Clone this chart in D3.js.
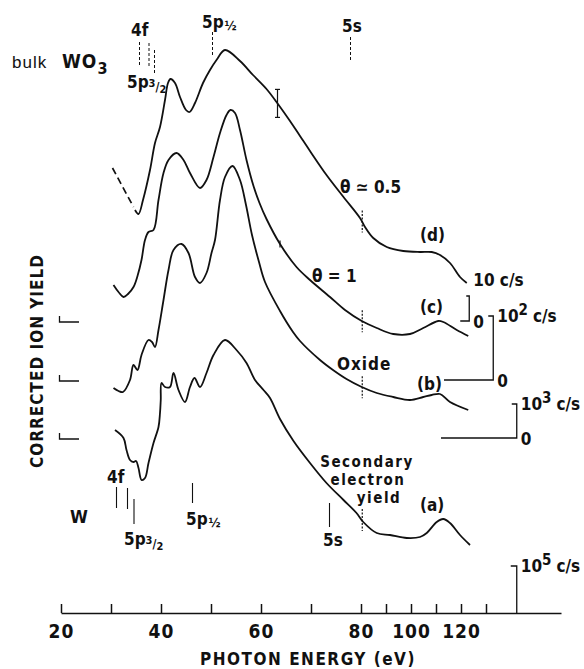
<!DOCTYPE html>
<html>
<head>
<meta charset="utf-8">
<script src="https://cdn.jsdelivr.net/npm/d3@7"></script>
<style>
  body { margin: 0; background: #fff; }
  svg text {
    font-family: "Liberation Sans Narrow", "DejaVu Sans Condensed", sans-serif;
    font-weight: bold;
    fill: #111;
  }
</style>
</head>
<body>
<div id="chart"></div>
<script>
// photon energy axis (eV); the axis is compressed above 80 eV
const energyTicks = [20, 30, 40, 50, 60, 70, 80, 90, 100, 110, 120, 130];
const energyLabels = [20, 40, 60, 80, 100, 120];

// curves: [photon energy (eV), yield above the curve's own zero (arb. units)]
const curveA = [[30.8,183],[32.5,175],[33.1,163],[33.8,153],[34.5,151],[35.0,152],[35.5,145],
  [36.1,133],[36.8,135],[37.5,150],[38.5,170],[39.5,186],[39.8,200],[39.95,213],[40.1,230],
  [40.8,226],[41.8,226],[42.5,240],[43.5,223],[44.8,211],[45.8,226],[46.7,235],[47.8,226],
  [49.1,240],[50.5,258],[52.8,273],[55.1,263],[57.1,250],[58.8,233],[60.5,223],[61.8,215],
  [63.8,194],[66.5,172],[69.8,150],[73.1,130],[76.5,113],[79.1,100],[80.9,91],[86.3,80],
  [91.6,78],[98.3,75],[103.6,76],[106.3,80],[110.3,91],[112.9,94],[115.6,90],[119.6,78],[123.6,68]];

const curveB = [[30.5,50],[31.5,47],[32.4,46],[33.8,58],[34.5,73],[35.3,68],[36.1,83],[37.5,98],
  [38.2,96],[38.8,91],[39.5,108],[40.5,138],[41.5,168],[42.5,188],[44.1,194],[45.5,185],
  [46.8,161],[47.8,155],[49.1,165],[50.1,185],[50.8,198],[51.8,238],[52.8,261],[54.3,272],
  [55.8,258],[57.0,233],[58.2,203],[59.6,176],[60.8,156],[63.8,127],[66.4,106],[67.8,97],
  [71.8,78],[74.4,68],[77.1,59],[80.3,51],[86.3,45],[92.9,41],[99.6,38],[104.9,41],[108.3,43],
  [111.6,44],[115.6,36],[122.9,28]];

const curveC = [[30.5,95],[31.5,88],[32.5,83],[33.4,86],[34.5,93],[35.3,104],[36.1,120],
  [36.8,140],[37.5,148],[38.5,150],[39.5,180],[40.5,207],[41.5,220],[43.1,227],[44.5,220],
  [45.8,207],[47.8,192],[49.1,200],[50.5,223],[51.8,247],[53.1,265],[53.9,270],[54.8,267],
  [55.8,250],[57.1,220],[58.5,194],[59.7,177],[61.1,161],[63.8,136],[67.1,113],[69.8,100],
  [73.8,83],[76.8,70],[80.3,59],[86.3,52],[92.9,46],[99.6,46],[104.9,52],[110.9,59],
  [112.9,58],[118.3,50],[122.9,44]];

const curveD = [[34.8,111],[35.5,107],[36.4,121],[37.8,151],[38.8,178],[39.8,194],[40.8,221],
  [41.4,238],[41.9,242],[42.8,238],[43.8,224],[45.0,211],[45.7,209],[46.8,218],[48.4,238],
  [49.8,251],[51.1,261],[52.8,271],[55.8,260],[58.4,246],[61.1,232],[63.1,219],[65.8,200],
  [67.8,185],[69.8,170],[73.1,146],[76.5,124],[79.8,103],[81.6,94],[84.9,83],[90.3,74],
  [96.9,70],[103.6,69],[108.3,69],[111.6,66],[115.6,58],[119.6,44],[122.3,38]];
const curveDExtrapolated = [[30.3,153],[34.5,114]];

const curves = [curveA, curveB, curveC, curveD];
const curveZero = [0, 175, 233, 292];          // offset of each curve's zero
const scaleBarSize = [47, 34, 64, 25];         // full-scale bar of each curve
const scaleBarEnergy = [142.3, 142.3, 132.9, 123.3];
const scaleBarPower = ['5', '3', '2', ''];

// level markers (eV)
const bulkLevels = [35.7, 37.6, 38.7, 50.3, 77.9];
const metalLevels = [31.1, 33.3, 34.6, 46.3, 73.7];

const breakEnergy = 80.5;

const width = 584, height = 669;

const x = d3.scaleLinear().domain([20, 80, 160]).range([61, 361, 561]);
const y = d3.scaleLinear().domain([0, 600]).range([613, 13]);

const svg = d3.select('#chart').append('svg')
  .attr('width', width).attr('height', height);

const line = d3.line()
  .x((d) => x(d[0]))
  .curve(d3.curveCatmullRom.alpha(0.5));

function valueAt(curve, e) {
  const i = d3.bisector((d) => d[0]).left(curve, e);
  const a = curve[Math.max(i - 1, 0)], b = curve[Math.min(i, curve.length - 1)];
  if (a === b) return a[1];
  return a[1] + (b[1] - a[1]) * (e - a[0]) / (b[0] - a[0]);
}

// curves
curves.forEach((c, k) => {
  svg.append('path')
    .attr('d', line.y((d) => y(d[1] + curveZero[k]))(c))
    .attr('fill', 'none').attr('stroke', '#111').attr('stroke-width', 1.8);

  // break mark at 80 eV
  const v = valueAt(c, breakEnergy) + curveZero[k];
  svg.append('line')
    .attr('x1', x(breakEnergy)).attr('x2', x(breakEnergy))
    .attr('y1', y(v + 11)).attr('y2', y(v - 11))
    .attr('stroke', '#111').attr('stroke-width', 1.2).attr('stroke-dasharray', '2,1.5');
});

svg.append('path')
  .attr('d', line.y((d) => y(d[1] + curveZero[3]))(curveDExtrapolated))
  .attr('fill', 'none').attr('stroke', '#111').attr('stroke-width', 1.7)
  .attr('stroke-dasharray', '7,4');

// error bars
function errorBar(curve, k, e, half, cap) {
  const v = valueAt(curve, e) + curveZero[k];
  const g = svg.append('g').attr('stroke', '#111').attr('stroke-width', 1.2);
  g.append('line').attr('x1', x(e)).attr('x2', x(e)).attr('y1', y(v + half)).attr('y2', y(v - half));
  if (cap) {
    [v + half, v - half].forEach((w) => g.append('line')
      .attr('x1', x(e) - cap).attr('x2', x(e) + cap).attr('y1', y(w)).attr('y2', y(w)));
  }
}
errorBar(curveD, 3, 63.3, 14, 2.5);
errorBar(curveC, 2, 63.8, 3.5, 0);

// left zero markers
[1, 2, 3].forEach((k) => {
  const yy = y(curveZero[k]) + 1;
  svg.append('path')
    .attr('d', `M59.5,${yy - 6}V${yy}H79`)
    .attr('fill', 'none').attr('stroke', '#111').attr('stroke-width', 1.3);
});

// scale bars on the right
const bars = svg.append('g').attr('fill', 'none').attr('stroke', '#111').attr('stroke-width', 1.3);
curves.forEach((c, k) => {
  const bx = x(scaleBarEnergy[k]);
  const y0 = y(curveZero[k]), y1 = y(curveZero[k] + scaleBarSize[k]);
  let p;
  if (k === 3) p = `M${bx - 3},${y1}H${bx}V${y0}H${bx - 9}`;
  else if (k === 0) p = `M${bx - 6},${y1}H${bx}V${y0}`;
  else p = `M${bx - 5},${y1}H${bx}V${y0}H${k === 2 ? 444 : 441}`;
  bars.append('path').attr('d', p);

  const t = svg.append('text').attr('font-size', 17);
  if (k === 3) {
    t.attr('x', bx + 4).attr('y', y1 - 10).text('10  c/s');
  } else {
    t.attr('x', bx + 4).attr('y', y1 + 6);
    t.append('tspan').text('10');
    t.append('tspan').attr('dy', -7).attr('font-size', 15).text(scaleBarPower[k]);
    t.append('tspan').attr('dy', 7).attr('dx', 5).text('c/s');
  }
  if (k > 0) {
    svg.append('text').attr('font-size', 17)
      .attr('x', bx + 4).attr('y', y0 + 7).text('0');
  }
});

// axis
const axisG = svg.append('g').attr('transform', `translate(0,${y(0)})`);
axisG.call(d3.axisBottom(x).tickValues(energyTicks).tickSize(-9).tickSizeOuter(0).tickFormat(''));
axisG.selectAll('path, line').attr('stroke', '#111').attr('stroke-width', 1.5);
const labelG = svg.append('g').attr('transform', `translate(0,${y(0)})`);
labelG.call(d3.axisBottom(x).tickValues(energyLabels).tickSize(0).tickPadding(12));
labelG.select('.domain').remove();
labelG.selectAll('text')
  .attr('font-size', 19).attr('fill', '#111')
  .style('font-family', '"Liberation Sans Narrow", "DejaVu Sans Condensed", sans-serif')
  .style('font-weight', 'bold').style('letter-spacing', '1px');

svg.append('text')
  .attr('x', 308).attr('y', 665).attr('text-anchor', 'middle')
  .attr('font-size', 17).style('letter-spacing', '1.5px')
  .text('PHOTON ENERGY (eV)');

svg.append('text')
  .attr('transform', 'translate(43,361) rotate(-90)').attr('text-anchor', 'middle')
  .attr('font-size', 17).style('letter-spacing', '1px')
  .text('CORRECTED ION YIELD');

// level markers
const bulkSpan = [[42, 65], [43, 67], [50, 73], [32, 57], [37, 62]];
bulkLevels.forEach((e, i) => {
  svg.append('line')
    .attr('x1', x(e)).attr('x2', x(e)).attr('y1', bulkSpan[i][0]).attr('y2', bulkSpan[i][1])
    .attr('stroke', '#111').attr('stroke-width', 1).attr('stroke-dasharray', '3,2');
});
const metalSpan = [[487, 508], [488, 509], [499, 524], [483, 503], [503, 527]];
metalLevels.forEach((e, i) => {
  svg.append('line')
    .attr('x1', x(e)).attr('x2', x(e)).attr('y1', metalSpan[i][0]).attr('y2', metalSpan[i][1])
    .attr('stroke', '#111').attr('stroke-width', 1.1);
});

function label(tx, ty, str, size, anchor) {
  return svg.append('text').attr('x', tx).attr('y', ty)
    .attr('font-size', size || 17).attr('text-anchor', anchor || 'start').text(str);
}
function orbital(tx, ty, sub) {
  const t = svg.append('text').attr('x', tx).attr('y', ty).attr('font-size', 17);
  t.append('tspan').text('5p');
  if (sub === '½') {
    t.append('tspan').attr('dx', 1).attr('dy', 2).attr('font-size', 13).text('½');
  } else {
    t.append('tspan').attr('dy', -1).attr('font-size', 11).text('3');
    t.append('tspan').attr('dy', 4).attr('font-size', 12).text('/');
    t.append('tspan').attr('dy', 2).attr('font-size', 11).text('2');
  }
}

// bulk WO3 labels
svg.append('text').attr('x', 12).attr('y', 68).attr('font-size', 17)
  .style('font-family', '"Liberation Sans", sans-serif').style('font-weight', 'normal')
  .style('letter-spacing', '1px').text('bulk');
const wo = svg.append('text').attr('x', 62).attr('y', 68).attr('font-size', 19)
  .style('letter-spacing', '1px');
wo.append('tspan').text('WO');
wo.append('tspan').attr('dy', 6).attr('font-size', 16).text('3');
label(131, 36, '4f');
orbital(127, 88, '3/2');
orbital(202, 28, '½');
label(342, 32, '5s');

// curve labels
label(340, 193, 'θ ≃ 0.5');
label(420, 241, '(d)');
label(312, 282, 'θ = 1');
label(420, 313, '(c)');
label(337, 370, 'Oxide').style('letter-spacing', '1px');
label(417, 390, '(b)');
label(367, 467, 'Secondary', 15, 'middle').style('letter-spacing', '1.5px');
label(368, 485, 'electron', 15, 'middle').style('letter-spacing', '1.5px');
label(379, 503, 'yield', 15, 'middle').style('letter-spacing', '1.5px');
label(420, 511, '(a)');

// metallic W labels
label(70, 523, 'W', 18);
label(107, 483, '4f');
orbital(124, 545, '3/2');
orbital(186, 525, '½');
label(323, 546, '5s');
</script>
</body>
</html>
